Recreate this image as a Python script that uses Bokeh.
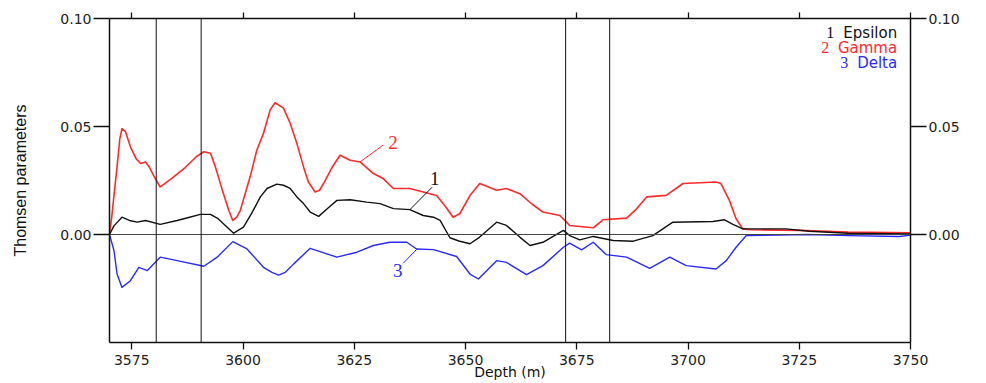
import numpy as np
from bokeh.plotting import figure
from bokeh.models import (LinearAxis, FixedTicker, Span, Label, Range1d,
                          NumeralTickFormatter, CustomLabelingPolicy)
from bokeh.embed import file_html
from bokeh.resources import INLINE

# Thomsen anisotropy parameters logged against depth (m)
gamma_depth = [3570.0, 3570.5, 3571.0, 3571.7, 3572.3, 3572.8, 3573.6, 3574.7, 3576.0,
               3577.0, 3578.1, 3579.0, 3579.9, 3581.4, 3584.0, 3587.0, 3589.5, 3591.2,
               3592.7, 3593.8, 3595.6, 3596.8, 3597.7, 3598.6, 3599.4, 3601.6, 3603.1,
               3604.6, 3606.1, 3607.2, 3609.1, 3610.6, 3612.1, 3613.6, 3614.7, 3616.2,
               3617.2, 3618.1, 3620.0, 3621.8, 3624.1, 3626.3, 3629.3, 3631.5, 3633.8,
               3637.5, 3640.5, 3643.5, 3645.5, 3647.2, 3648.7, 3651.0, 3653.2, 3657.0,
               3659.2, 3662.2, 3665.0, 3667.4, 3671.2, 3673.4, 3675.7, 3678.7, 3680.9,
               3686.2, 3688.5, 3690.7, 3695.1, 3698.9, 3706.3, 3707.4, 3709.3, 3710.8,
               3712.3, 3714.0, 3725.0, 3736.0, 3750.0]
gamma = [0.000, 0.008, 0.018, 0.0313, 0.044, 0.049, 0.0476, 0.0406, 0.035,
         0.0329, 0.0336, 0.031, 0.0274, 0.022, 0.026, 0.031, 0.036, 0.0383,
         0.0376, 0.0313, 0.0189, 0.0112, 0.0065, 0.008, 0.0112, 0.0267, 0.039,
         0.0468, 0.0577, 0.061, 0.0585, 0.0515, 0.0422, 0.0313, 0.0243, 0.0197,
         0.0205, 0.0236, 0.031, 0.0367, 0.0344, 0.0336, 0.0282, 0.0259, 0.0213,
         0.0213, 0.0197, 0.0181, 0.013, 0.008, 0.0096, 0.018, 0.0236, 0.0205,
         0.0213, 0.0189, 0.014, 0.0104, 0.0088, 0.0042, 0.0037, 0.0031, 0.0068,
         0.0076, 0.012, 0.0174, 0.0181, 0.0236, 0.0243, 0.0236, 0.0158, 0.0073,
         0.0026, 0.0022, 0.0019, 0.0011, 0.0008]

epsilon_depth = [3570.0, 3571.0, 3572.8, 3574.5, 3576.2, 3578.1, 3581.4, 3585.2, 3588.0,
                 3590.4, 3592.7, 3594.3, 3595.6, 3597.9, 3600.1, 3602.0, 3603.9, 3605.4,
                 3607.6, 3609.1, 3610.6, 3612.1, 3613.6, 3615.1, 3617.0, 3619.0, 3621.1,
                 3624.1, 3627.8, 3630.8, 3633.8, 3637.5, 3640.5, 3642.8, 3644.3, 3646.5,
                 3648.5, 3651.0, 3653.2, 3657.0, 3659.2, 3662.2, 3664.5, 3667.4, 3672.0,
                 3673.4, 3675.7, 3678.7, 3683.2, 3687.7, 3692.1, 3696.6, 3705.6, 3708.2,
                 3710.1, 3712.3, 3717.6, 3722.0, 3727.3, 3736.0, 3750.0]
epsilon = [0.0, 0.004, 0.008, 0.0065, 0.0057, 0.0065, 0.0047, 0.0065, 0.008,
           0.0093, 0.0093, 0.0075, 0.005, 0.0006, 0.0034, 0.010, 0.0174, 0.0213,
           0.0233, 0.0228, 0.0213, 0.0174, 0.0143, 0.0104, 0.0084, 0.012, 0.0158,
           0.0161, 0.015, 0.0143, 0.012, 0.0115, 0.0088, 0.008, 0.0065, -0.0015,
           -0.0030, -0.0043, -0.0012, 0.0057, 0.0042, -0.0012, -0.0051, -0.0036, 0.0019,
           -0.0005, -0.0025, -0.0009, -0.0028, -0.0031, -0.0005, 0.0057, 0.006, 0.0068,
           0.0047, 0.0026, 0.0026, 0.0026, 0.0015, 0.0006, 0.0002]

delta_depth = [3570.0, 3571.0, 3571.7, 3572.8, 3574.7, 3576.6, 3578.5, 3581.4, 3585.2,
               3591.2, 3594.2, 3597.7, 3600.9, 3604.6, 3606.5, 3608.0, 3609.5, 3611.4,
               3615.1, 3621.1, 3625.6, 3629.3, 3633.0, 3636.8, 3639.0, 3642.8, 3648.0,
               3651.0, 3652.9, 3657.0, 3659.2, 3663.7, 3667.4, 3672.0, 3673.4, 3676.1,
               3678.7, 3681.6, 3686.2, 3691.4, 3695.9, 3699.6, 3706.3, 3708.6, 3710.8,
               3713.1, 3727.0, 3736.0, 3747.5, 3750.0]
delta = [0.0, -0.0074, -0.0183, -0.0245, -0.0214, -0.0152, -0.0167, -0.0105, -0.0121,
         -0.0147, -0.0105, -0.0033, -0.0067, -0.0152, -0.0175, -0.0188, -0.0175, -0.0136,
         -0.0064, -0.0105, -0.0082, -0.0051, -0.0036, -0.0036, -0.0067, -0.0070, -0.0102,
         -0.0183, -0.0206, -0.0121, -0.0129, -0.0186, -0.0144, -0.0059, -0.0040, -0.0071,
         -0.0036, -0.0093, -0.0105, -0.0157, -0.0105, -0.0144, -0.0160, -0.0121, -0.0059,
         -0.0005, 0.0, -0.0005, -0.0009, -0.0003]

# interval boundaries marked on the log
marker_depths = [3580.5, 3590.6, 3672.5, 3682.4]

depth_ticks = [3575, 3600, 3625, 3650, 3675, 3700, 3725, 3750]
value_ticks = [0.0, 0.05, 0.10]

series_names = ["Epsilon", "Gamma", "Delta"]
series_colors = ["#111111", "#ff2a2a", "#2a2aff"]

TICK_FONT = "DejaVu Sans"
SERIF = "Liberation Serif"

p = figure(width=986, height=383,
           x_range=Range1d(3570, 3750), y_range=Range1d(-0.05, 0.10),
           output_backend="svg", toolbar_location=None,
           min_border_left=109, min_border_right=76,
           min_border_top=18, min_border_bottom=41)
p.grid.visible = False
p.outline_line_color = None
p.background_fill_color = "white"
p.border_fill_color = "white"


def style_axis(ax, tick_out):
    ax.axis_line_color = "#111111"
    ax.axis_line_width = 1.5
    ax.major_tick_line_color = "#111111"
    ax.major_tick_line_width = 1.3
    ax.major_tick_out = tick_out
    ax.major_tick_in = 0
    ax.minor_tick_out = 0
    ax.minor_tick_in = 0
    ax.minor_tick_line_color = None
    ax.major_label_text_font = TICK_FONT
    ax.major_label_text_font_size = "14px"
    ax.major_label_text_color = "#222222"


# bottom depth axis
xa = p.xaxis[0]
xa.ticker = FixedTicker(ticks=depth_ticks)
style_axis(xa, 7)
xa.major_label_standoff = 5
xa.axis_label = "Depth (m)"
xa.axis_label_text_font = TICK_FONT
xa.axis_label_text_font_style = "normal"
xa.axis_label_text_font_size = "14px"
xa.axis_label_text_color = "#111111"
xa.axis_label_standoff = -4

# top axis: tick marks only, no labels
xt = LinearAxis(ticker=FixedTicker(ticks=depth_ticks),
                major_label_policy=CustomLabelingPolicy(code="""
const all = [...indices]
for (const i of all) indices.unset(i)
"""))
style_axis(xt, 6)
xt.major_label_text_font_size = "1px"
xt.major_label_standoff = 0
p.add_layout(xt, "above")

# left value axis
ya = p.yaxis[0]
ya.ticker = FixedTicker(ticks=value_ticks)
ya.formatter = NumeralTickFormatter(format="0.00")
style_axis(ya, 16)
ya.major_label_standoff = 2
ya.axis_label = "Thomsen parameters"
ya.axis_label_text_font = "Liberation Sans"
ya.axis_label_text_font_style = "normal"
ya.axis_label_text_font_size = "16px"
ya.axis_label_text_color = "#111111"
ya.axis_label_standoff = 28

# right value axis
yr = LinearAxis(ticker=FixedTicker(ticks=value_ticks),
                formatter=NumeralTickFormatter(format="0.00"))
style_axis(yr, 16)
yr.major_label_standoff = 2
p.add_layout(yr, "right")

# zero line and interval markers
p.add_layout(Span(location=0, dimension="width", line_color="#444444", line_width=1))
for d in marker_depths:
    p.add_layout(Span(location=d, dimension="height", line_color="#111111", line_width=1))

# curves
p.line(gamma_depth, gamma, line_color=series_colors[1], line_width=1.6, line_join="round")
p.line(epsilon_depth, epsilon, line_color=series_colors[0], line_width=1.4, line_join="round")
p.line(delta_depth, delta, line_color=series_colors[2], line_width=1.4, line_join="round")

# numbered call-outs: anchor depth on a curve, leader offset, number offset
callouts = [
    (3626.3, gamma_depth, gamma, (5.2, 0.0078), (2.2, 0.0014), series_colors[1], "2"),
    (3637.5, epsilon_depth, epsilon, (5.0, 0.0104), (0.6, 0.0040), series_colors[0], "1"),
    (3639.1, delta_depth, delta, (-3.1, -0.0066), (-1.2, -0.0032), series_colors[2], "3"),
]
for xa0, cx, cy, (dx, dy), (lx, ly), col, num in callouts:
    ya0 = float(np.interp(xa0, cx, cy))
    xe, ye = xa0 + dx, ya0 + dy
    p.segment(x0=[xa0], y0=[ya0], x1=[xe], y1=[ye], line_color=col, line_width=1)
    p.add_layout(Label(x=xe + lx, y=ye + ly, text=num, text_color=col,
                       text_font=SERIF, text_font_size="19px",
                       text_align="center", text_baseline="middle"))

# legend: serif number followed by series name, right aligned
legend_right = 3747.0
legend_rows = [0.0935, 0.0865, 0.0795]
name_offsets = [-63, -68, -49]
for i, (name, col, yv, off) in enumerate(zip(series_names, series_colors,
                                             legend_rows, name_offsets)):
    p.add_layout(Label(x=legend_right, y=yv, text=name, text_color=col,
                       text_font=TICK_FONT, text_font_size="15px",
                       text_align="right", text_baseline="middle"))
    p.add_layout(Label(x=legend_right, y=yv, x_offset=off, text=str(i + 1),
                       text_color=col, text_font=SERIF, text_font_size="16px",
                       text_align="right", text_baseline="middle"))

open("out.html", "w").write(file_html(p, INLINE))
